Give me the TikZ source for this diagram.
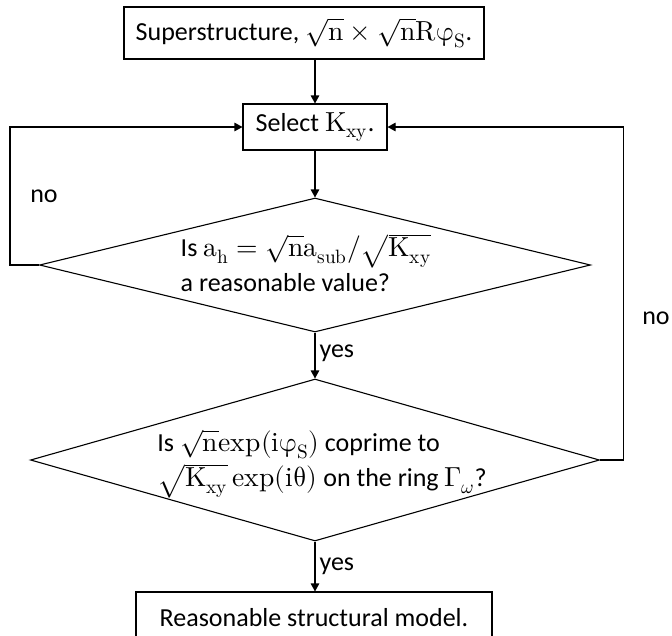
\documentclass[tikz,border=0pt]{standalone}
\usepackage{fontspec}
\usepackage[math-style=upright]{unicode-math}
\setmainfont{Carlito}
\setmathfont{Latin Modern Math}[Scale=1.06]
\usetikzlibrary{arrows.meta,positioning,shapes.geometric}

\begin{document}
\begin{tikzpicture}[x=1pt, y=-1pt,
  font=\fontsize{26}{35}\selectfont,
  box/.style={draw, line width=1.1pt, inner sep=0pt, align=center},
  dec/.style={draw, diamond, line width=1.1pt, inner sep=0pt},
  txt/.style={align=left, inner sep=0pt},
  arr/.style={-{Triangle[length=8pt, width=8.5pt]}, line width=1.1pt}]
\clip (0,0) rectangle (672,635);
\useasboundingbox (0,0) rectangle (672,635);
% boxes
\node[box, minimum width=360pt, minimum height=52pt] (super) at (304,33) {Superstructure, $\sqrt{n}\times\sqrt{n}R\varphi_{S}$.};
\node[box, minimum width=144pt, minimum height=46pt] (sel) at (315,127) {Select $K_{xy}$.};
\node[box, minimum width=356pt, minimum height=52pt] (model) at (314,618) {Reasonable structural model.};
% decisions
\node[dec, minimum width=551pt, minimum height=134pt] (chk) at (315,265) {};
\node[txt] (chkq) at (306,263) {Is $a_{h}=\sqrt{n}a_{sub}/\sqrt{K_{xy}}$\\a reasonable value?};
\node[dec, minimum width=569pt, minimum height=162pt] (cop) at (315,460) {};
\node[txt] (copq) at (322,464) {Is $\sqrt{n}exp(i\varphi_{S})$ coprime to\\$\sqrt{K_{xy}}\,exp(i\theta)$ on the ring $\Gamma_{\symit{\omega}}$?};

\draw[arr] (sel.north |- super.south) -- (sel);
\draw[arr] (sel) -- (chk);
\draw[arr] (chk) -- (cop) node[pos=0.45, right=4pt, inner sep=0pt] (yes1) {yes};
\draw[arr] (cop) -- (model.north -| cop) node[pos=0.5, right=4pt, inner sep=0pt] (yes2) {yes};
% loops back
\draw[arr] (chk.west) -- ++(-29,0) |- (sel.west);
\draw[arr] (cop.east) -- ++(23,0) |- (sel.east);
\node[inner sep=0pt] (no1) at (44,196) {no};
\node[inner sep=0pt] (no2) at (656,318) {no};
\end{tikzpicture}
\end{document}
